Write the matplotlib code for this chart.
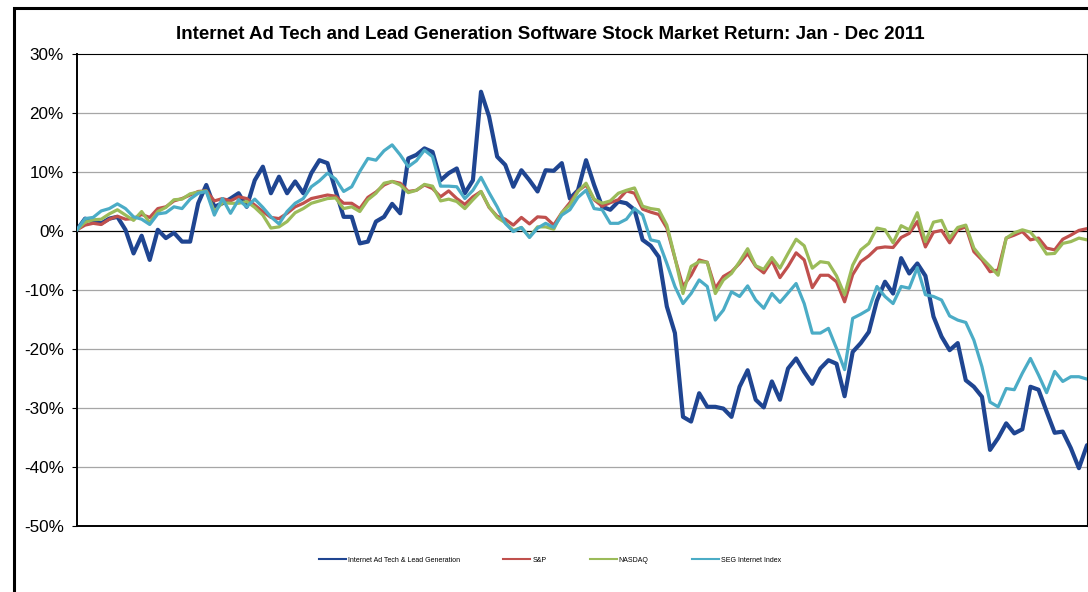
import matplotlib
matplotlib.use("Agg")
import matplotlib.pyplot as plt
import matplotlib.patches as mpatches
from matplotlib.lines import Line2D
import numpy as np

# Cumulative return (%) sampled every 2nd trading day, Jan - Dec 2011
ad_tech = [0.2, 2.1, 1.6, 1.3, 2.1, 2.4, 0.2, -3.8, -0.8, -4.9,
           0.2, -1.2, -0.3, -1.8, -1.8, 4.7, 7.8, 4.1, 4.7, 5.5,
           6.4, 4.1, 8.6, 10.9, 6.4, 9.2, 6.4, 8.4, 6.4, 9.8,
           12.0, 11.5, 6.9, 2.4, 2.4, -2.1, -1.8, 1.6, 2.4, 4.6,
           3.0, 12.3, 12.9, 14.0, 13.4, 8.6, 9.8, 10.6, 6.4, 8.6,
           23.6, 19.4, 12.6, 11.2, 7.5, 10.3, 8.6, 6.7, 10.3, 10.2,
           11.5, 5.5, 6.9, 12.0, 7.8, 4.1, 3.6, 5.0, 4.7, 3.6,
           -1.5, -2.5, -4.4, -12.8, -17.3, -31.5, -32.3, -27.5, -29.8, -29.8,
           -30.1, -31.5, -26.4, -23.6, -28.6, -29.9, -25.5, -28.6, -23.3, -21.6,
           -23.9, -25.9, -23.3, -21.9, -22.5, -28.0, -20.5, -19.0, -17.1, -11.8,
           -8.6, -10.6, -4.6, -7.2, -5.5, -7.6, -14.5, -17.9, -20.2, -19.0,
           -25.3, -26.4, -28.1, -37.1, -35.1, -32.6, -34.3, -33.6, -26.4, -26.9,
           -30.6, -34.2, -34.0, -36.8, -40.2, -36.3]
sp = [0.2, 1.0, 1.3, 1.1, 2.0, 2.5, 2.0, 2.1, 2.8, 2.3,
      3.8, 4.1, 5.1, 5.5, 6.1, 6.7, 6.8, 5.1, 5.5, 5.1,
      5.8, 5.5, 4.4, 3.3, 2.3, 2.1, 3.0, 4.1, 4.7, 5.5,
      5.8, 6.1, 5.9, 4.7, 4.7, 3.8, 5.7, 6.6, 7.8, 8.4,
      8.1, 6.7, 6.9, 7.8, 7.2, 5.8, 6.8, 5.5, 4.5, 5.8,
      6.7, 4.0, 2.5, 2.0, 1.0, 2.3, 1.2, 2.4, 2.3, 1.0,
      3.1, 4.8, 6.8, 7.8, 5.3, 4.2, 4.8, 5.3, 6.8, 6.4,
      3.7, 3.2, 2.8, 0.5, -4.6, -9.4, -7.5, -4.9, -5.3, -9.7,
      -7.7, -6.9, -5.5, -3.8, -6.0, -7.1, -5.0, -7.9, -6.0, -3.7,
      -4.9, -9.6, -7.5, -7.5, -8.6, -12.0, -7.4, -5.2, -4.2, -2.9,
      -2.7, -2.8, -1.1, -0.4, 1.6, -2.7, -0.2, 0.1, -2.0, 0.2,
      0.7, -3.5, -4.9, -6.9, -6.6, -1.2, -0.7, -0.1, -1.5, -1.2,
      -2.9, -3.2, -1.4, -0.7, 0.1, 0.4]
nasdaq = [0.2, 1.5, 1.9, 2.0, 2.9, 3.6, 2.7, 1.8, 3.3, 1.4,
          3.3, 4.0, 5.3, 5.4, 6.3, 6.6, 6.8, 3.3, 4.8, 4.7,
          4.7, 5.0, 4.0, 2.7, 0.5, 0.7, 1.6, 3.1, 3.8, 4.7,
          5.1, 5.5, 5.6, 3.8, 4.1, 3.3, 5.3, 6.4, 8.1, 8.4,
          7.8, 6.5, 6.9, 7.9, 7.6, 5.1, 5.4, 5.0, 3.8, 5.3,
          6.7, 4.1, 2.3, 1.4, 0.1, 0.6, -1.0, 0.7, 0.7, 0.3,
          3.1, 4.4, 6.7, 8.1, 5.4, 4.7, 5.1, 6.4, 6.9, 7.3,
          4.2, 3.8, 3.6, 1.0, -4.5, -10.6, -6.0, -5.2, -5.3, -10.6,
          -8.3, -7.2, -5.2, -3.0, -5.9, -6.5, -4.5, -6.3, -3.8, -1.4,
          -2.5, -6.3, -5.2, -5.4, -7.6, -10.8, -5.8, -3.2, -2.1, 0.5,
          0.2, -2.0, 0.9, 0.2, 3.1, -1.8, 1.5, 1.8, -1.2, 0.6,
          1.0, -2.9, -4.6, -6.0, -7.5, -1.2, -0.3, 0.2, -0.2, -1.8,
          -3.9, -3.8, -2.1, -1.8, -1.2, -1.5]
seg = [0.2, 2.1, 2.3, 3.4, 3.8, 4.6, 3.8, 2.4, 2.0, 1.1,
       2.9, 3.1, 4.1, 3.8, 5.4, 6.4, 6.7, 2.7, 5.5, 3.0,
       5.3, 4.1, 5.4, 4.0, 2.4, 1.2, 3.3, 4.7, 5.5, 7.5,
       8.5, 9.8, 8.8, 6.7, 7.5, 10.1, 12.3, 12.0, 13.6, 14.6,
       12.9, 10.9, 11.9, 13.7, 12.6, 7.6, 7.6, 7.5, 5.5, 6.9,
       9.1, 6.5, 4.1, 1.3, -0.1, 0.6, -1.1, 0.5, 1.3, 0.6,
       2.7, 3.6, 5.7, 6.9, 3.8, 3.6, 1.3, 1.3, 2.0, 3.8,
       2.7, -1.5, -1.8, -5.5, -9.4, -12.3, -10.6, -8.3, -9.4, -15.1,
       -13.4, -10.3, -11.1, -9.3, -11.7, -13.1, -10.6, -12.1, -10.5, -8.9,
       -12.3, -17.3, -17.3, -16.5, -19.9, -23.5, -14.8, -14.1, -13.3, -9.4,
       -11.1, -12.3, -9.4, -9.7, -6.2, -10.8, -11.1, -11.7, -14.4, -15.1,
       -15.5, -18.5, -23.0, -29.0, -29.8, -26.7, -26.9, -24.1, -21.6, -24.4,
       -27.4, -23.8, -25.5, -24.7, -24.7, -25.1]

series_names = ["Internet Ad Tech & Lead Generation", "S&P", "NASDAQ", "SEG Internet Index"]
y_ticks = [30, 20, 10, 0, -10, -20, -30, -40, -50]
title = "Internet Ad Tech and Lead Generation Software Stock Market Return: Jan - Dec 2011"

colors = ["#1F4591", "#C0504D", "#9BBB59", "#4BACC6"]
widths = [3.0, 2.3, 2.3, 2.3]

plt.rcParams["font.family"] = ["Liberation Sans", "DejaVu Sans"]

W, H = 1088, 592
fig = plt.figure(figsize=(W / 100, H / 100), dpi=100)
fig.patch.set_facecolor("white")

# outer frame (only left/top edges fall inside the picture)
fig.add_artist(mpatches.Rectangle(
    (13.5 / W, -0.2), 1.3, 1 - 7.5 / H + 0.2, transform=fig.transFigure,
    facecolor="none", edgecolor="black", linewidth=2.2, clip_on=False))

ax = fig.add_axes([77 / W, 1 - 526 / H, 1010 / W, 472 / H])

# gridlines
for v in y_ticks[1:-1]:
    if v == 0:
        continue
    ax.axhline(v, color="#A6A6A6", lw=0.9, zorder=0)
ax.axhline(0, color="black", lw=0.9, zorder=1)

x = np.arange(len(ad_tech))
for vals, color, lw in zip([ad_tech, sp, nasdaq, seg], colors, widths):
    ax.plot(x, vals, color=color, lw=lw, solid_joinstyle="round",
            solid_capstyle="round", zorder=3)

ax.set_xlim(0, len(ad_tech) - 1)
ax.set_ylim(-50, 30)
ax.set_xticks([])
ax.set_yticks(y_ticks)
ax.set_yticklabels([f"{v}%" for v in y_ticks], fontsize=12.3)
ax.tick_params(axis="y", length=3.6, width=0.8, pad=6, color="black")

for side in ["left", "bottom"]:
    ax.spines[side].set_linewidth(1.4)
for side in ["top", "right"]:
    ax.spines[side].set_linewidth(0.8)

fig.text(550 / W, 1 - 39 / H, title, ha="center", va="baseline",
         fontsize=13.5, fontweight="bold")

handles = [Line2D([0], [0], color=c, lw=1.5) for c in colors]
fig.legend(handles, series_names, loc="center", bbox_to_anchor=(550 / W, 1 - 560 / H),
           ncol=4, frameon=False, fontsize=5.0, handlelength=3.9,
           handletextpad=0.3, columnspacing=6.2)

fig.savefig("out.png", dpi=100)
